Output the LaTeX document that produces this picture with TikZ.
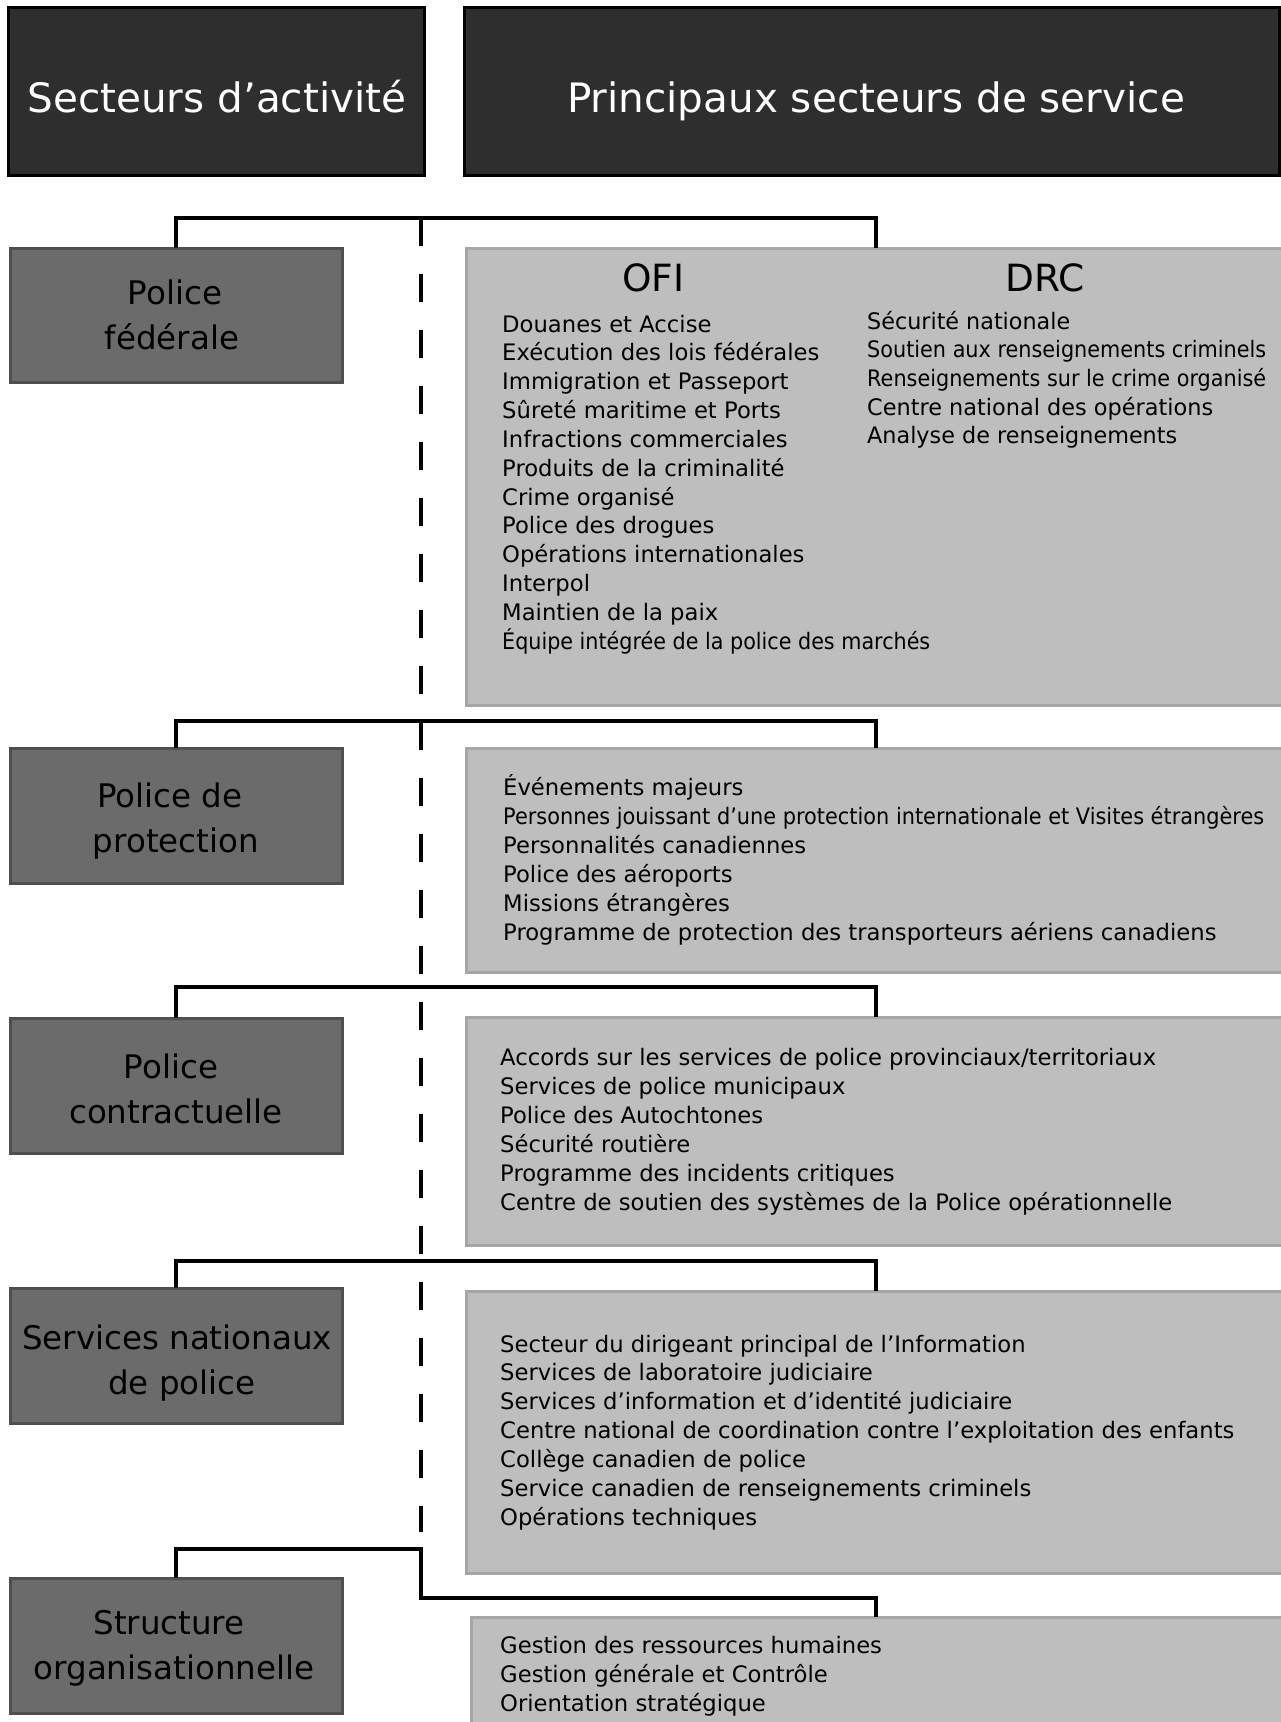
\documentclass[tikz,border=0pt]{standalone}
\usepackage{graphicx}
\usepackage{fontspec}
\setmainfont{DejaVu Sans}
\newcommand{\fitw}[2]{\resizebox{#1}{\height}{#2}}
\definecolor{hdrfill}{gray}{0.18}
\definecolor{pfill}{gray}{0.42}
\definecolor{pborder}{gray}{0.31}
\definecolor{gfill}{gray}{0.745}
\definecolor{gborder}{gray}{0.65}
\tikzset{
  hdr/.style={draw=black, line width=3pt, fill=hdrfill, anchor=north west, inner sep=0pt, outer sep=0pt},
  pbox/.style={draw=pborder, line width=3pt, fill=pfill, anchor=north west, inner sep=0pt, outer sep=0pt, minimum width=332pt},
  gbox/.style={draw=gborder, line width=3pt, fill=gfill, anchor=north west, inner sep=0pt, outer sep=0pt},
  htext/.style={anchor=base, text=white, font=\fontsize{40.5}{48}\selectfont, inner sep=0pt},
  ptext/.style={anchor=base, text=black, font=\fontsize{32.5}{40}\selectfont, inner sep=0pt},
  ttext/.style={anchor=base, text=black, font=\fontsize{37.5}{44}\selectfont, inner sep=0pt},
  item/.style={anchor=base west, text=black, font=\fontsize{22.7}{28}\selectfont, inner sep=0pt},
  conn/.style={line width=3.3pt, black},
  dashline/.style={line width=4pt, black, dash pattern=on 28pt off 28pt},
}
\begin{document}
\begin{tikzpicture}[x=1pt, y=-1pt]
\useasboundingbox[fill=white] (0,0) rectangle (1281,1722);

% headers
\node[hdr, minimum width=416pt, minimum height=168pt] (h1) at (8,7) {};
\node[hdr, minimum width=815pt, minimum height=168pt] (h2) at (464,7) {};
\node[htext] (h1t) at (217,112) {Secteurs d’activité};
\node[htext] (h2t) at (876,112) {Principaux secteurs de service};

% left boxes
\node[pbox, minimum height=134pt] (p1) at (10,248) {};
\node[pbox, minimum height=135pt] (p2) at (10,748) {};
\node[pbox, minimum height=135pt] (p3) at (10,1018) {};
\node[pbox, minimum height=135pt] (p4) at (10,1288) {};
\node[pbox, minimum height=135pt] (p5) at (10,1578) {};

\node[ptext] (p1a) at (175,304) {Police};
\node[ptext] (p1b) at (172,349) {fédérale};
\node[ptext] (p2a) at (170,807) {Police de};
\node[ptext] (p2b) at (176,852) {protection};
\node[ptext] (p3a) at (171,1078.5) {Police};
\node[ptext] (p3b) at (176,1123.5) {contractuelle};
\node[ptext] (p4a) at (177,1349) {Services nationaux};
\node[ptext] (p4b) at (182,1394) {de police};
\node[ptext] (p5a) at (169,1634.5) {Structure};
\node[ptext] (p5b) at (174,1679.5) {organisationnelle};

% grey boxes
\node[gbox, minimum width=830pt, minimum height=457pt] (g1) at (466,248) {};
\node[gbox, minimum width=830pt, minimum height=224pt] (g2) at (466,748) {};
\node[gbox, minimum width=830pt, minimum height=228pt] (g3) at (466,1017) {};
\node[gbox, minimum width=830pt, minimum height=282pt] (g4) at (466,1291) {};
\node[gbox, minimum width=830pt, minimum height=130pt] (g5) at (471,1617) {};

% dashed separator
\coordinate (dtop) at (421,218);
\coordinate (dbot) at (421,1532);
\draw[dashline] (dtop) -- (dbot);

% connectors
\coordinate (j1) at (876,218);
\coordinate (j2) at (876,721);
\coordinate (j3) at (876,987);
\coordinate (j4) at (876,1261);
\coordinate (k5) at (421,1549);
\coordinate (j5) at (876,1598);
\draw[conn] (p1.north) |- (j1) -- (j1 |- g1.north);
\draw[conn] (p2.north) |- (j2) -- (j2 |- g2.north);
\draw[conn] (p3.north) |- (j3) -- (j3 |- g3.north);
\draw[conn] (p4.north) |- (j4) -- (j4 |- g4.north);
\draw[conn] (p5.north) |- (k5) |- (j5) -- (j5 |- g5.north);

% titles in first grey box
\node[ttext] (ofi) at (653.5,291) {OFI};
\node[ttext] (drc) at (1045,291) {DRC};

% lists
\foreach \t [count=\i from 0] in {Douanes et Accise, Exécution des lois fédérales, Immigration et Passeport, Sûreté maritime et Ports, Infractions commerciales, Produits de la criminalité, Crime organisé, Police des drogues, Opérations internationales, Interpol, Maintien de la paix, {\fitw{428pt}{Équipe intégrée de la police des marchés}}}
  \node[item] (ofi\i) at (502,{332+\i*28.85}) {\t};

\foreach \t [count=\i from 0] in {{\fitw{203pt}{Sécurité nationale}}, {\fitw{399pt}{Soutien aux renseignements criminels}}, {\fitw{399pt}{Renseignements sur le crime organisé}}, {\fitw{346pt}{Centre national des opérations}}, {\fitw{310pt}{Analyse de renseignements}}}
  \node[item] (drc\i) at (867,{329+\i*28.7}) {\t};

\foreach \t [count=\i from 0] in {Événements majeurs, {\fitw{761pt}{Personnes jouissant d’une protection internationale et Visites étrangères}}, Personnalités canadiennes, Police des aéroports, Missions étrangères, Programme de protection des transporteurs aériens canadiens}
  \node[item] (pp\i) at (503,{795+\i*29}) {\t};

\foreach \t [count=\i from 0] in {Accords sur les services de police provinciaux/territoriaux, Services de police municipaux, Police des Autochtones, Sécurité routière, Programme des incidents critiques, Centre de soutien des systèmes de la Police opérationnelle}
  \node[item] (pc\i) at (500,{1065+\i*29}) {\t};

\foreach \t [count=\i from 0] in {Secteur du dirigeant principal de l’Information, Services de laboratoire judiciaire, Services d’information et d’identité judiciaire, Centre national de coordination contre l’exploitation des enfants, Collège canadien de police, Service canadien de renseignements criminels, Opérations techniques}
  \node[item] (sn\i) at (500,{1352+\i*28.9}) {\t};

\foreach \t [count=\i from 0] in {Gestion des ressources humaines, Gestion générale et Contrôle, Orientation stratégique}
  \node[item] (so\i) at (500,{1653+\i*29}) {\t};
\end{tikzpicture}
\end{document}
